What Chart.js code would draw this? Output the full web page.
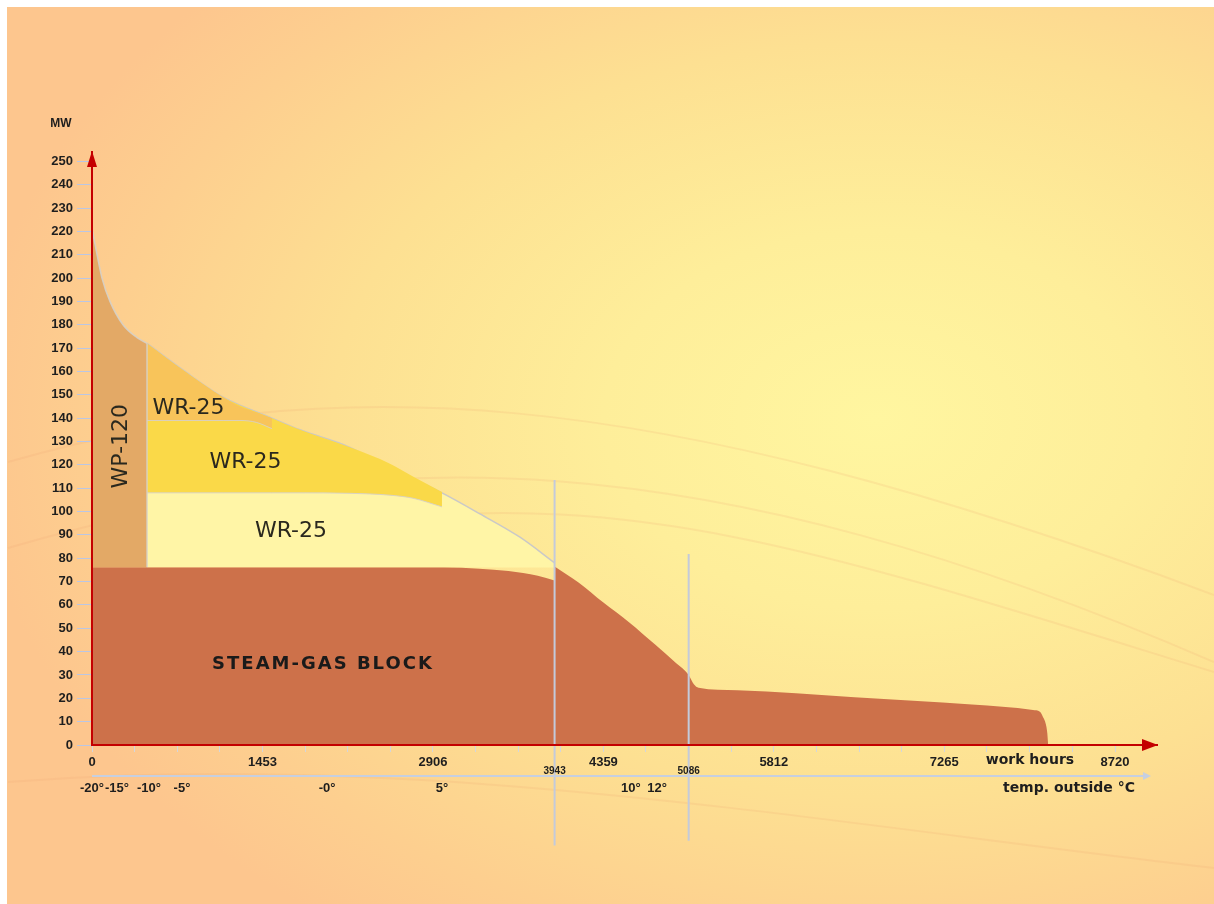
<!DOCTYPE html>
<html>
<head>
<meta charset="utf-8">
<script src="https://cdn.jsdelivr.net/npm/chart.js"></script>
<style>
  html, body { margin: 0; padding: 0; background: #fff; }
  #bg {
    position: absolute; left: 7px; top: 7px; width: 1207px; height: 897px;
    background: radial-gradient(ellipse 75% 70% at 72% 46%, #fff6a0 0%, #feee9a 30%, #fde092 60%, #fdcf8f 85%, #fdc68e 100%);
  }
  #wrap { position: absolute; left: 0; top: 0; width: 1214px; height: 904px; }
</style>
</head>
<body>
<div id="bg"></div>
<div id="wrap"><canvas id="grafico"></canvas></div>
<script>
// work hours on the x axis, MW on the y axis
const horasEtiquetas = [0, 1453, 2906, 4359, 5812, 7265, 8720];
const mwTicks = [0, 10, 20, 30, 40, 50, 60, 70, 80, 90, 100, 110, 120, 130, 140, 150, 160, 170, 180, 190, 200, 210, 220, 230, 240, 250];

// steam-gas block, before and after the 3943 h mark
const vaporAHoras = [0, 2500, 3000, 3300, 3550, 3800, 3943];
const vaporAMW = [76, 76, 76, 75.5, 74.5, 72.5, 70.5];
const vaporBHoras = [3943, 4150, 4359, 4580, 4800, 4980, 5086, 5130, 5170, 5500, 6500, 7500, 8021, 8080, 8106, 8130, 8143, 8150];
const vaporBMW = [76.5, 69.5, 61, 52.5, 43, 35, 30, 26, 24.5, 23.4, 20.4, 17.3, 15, 14.2, 12, 9, 5, 0];

// WP-120
const wpHoras = [0, 43, 85, 153, 264, 384, 469];
const wpMW = [221, 210, 200, 190, 180, 174.5, 172];

// upper WR-25
const wr1Horas = [469, 793, 1117, 1262, 1400, 1534];
const wr1Techo = [172, 160, 149, 145, 142.5, 140];
const wr1Piso = [139, 139, 139, 139, 138.2, 135.5];

// middle WR-25
const wr2Horas = [469, 793, 1117, 1534, 1773, 2199, 2540, 2736, 2983];
const wr2Techo = [172, 160, 149, 140, 135, 127.5, 120.5, 115, 108.4];
const wr2Piso = [108, 108, 108, 108, 108, 107.8, 107, 105.7, 102];

// lower WR-25 (outer curve)
const wr3Horas = [469, 793, 1117, 1534, 1773, 2199, 2455, 2983, 3307, 3648, 3943];
const wr3MW = [172, 160, 149, 140, 135, 127.5, 120.7, 108, 99, 89, 78];

// marked hours
const marcasHoras = [3943, 5086];
const marcasTope = [113.5, 81.8];

// outside temperature along the hours axis
const tempEtiquetas = ["-20°", "-15°", "-10°", "-5°", "-0°", "5°", "10°", "12°"];
const tempHoras = [0, 213, 486, 767, 2004, 2983, 4594, 4816];

const puntos = (hs, vs) => hs.map((h, i) => ({ x: h, y: vs[i] }));

// ticks every quarter of a labelled step
const horasTicks = [];
for (let i = 0; i < horasEtiquetas.length - 1; i++) {
  const a = horasEtiquetas[i], b = horasEtiquetas[i + 1];
  for (let k = 0; k < 4; k++) horasTicks.push(a + ((b - a) * k) / 4);
}
horasTicks.push(horasEtiquetas[horasEtiquetas.length - 1]);

const bordeClaro = "rgba(214, 208, 200, 0.9)";

// faint swooshes of the backdrop
const plugin_fondo = {
  id: "fondoCurvas",
  beforeDraw: (chart) => {
    const c = chart.ctx;
    c.save();
    c.strokeStyle = "rgba(236, 160, 112, 0.16)";
    c.lineWidth = 2;
    const curvas = [
      [8, 462, 330, 370, 640, 380, 1214, 595],
      [8, 548, 380, 440, 700, 440, 1214, 662],
      [380, 520, 650, 490, 850, 560, 1214, 672],
      [8, 782, 420, 750, 800, 820, 1214, 868],
    ];
    curvas.forEach((p) => {
      c.beginPath();
      c.moveTo(p[0], p[1]);
      c.bezierCurveTo(p[2], p[3], p[4], p[5], p[6], p[7]);
      c.stroke();
    });
    c.restore();
  },
};

const plugin_dibujo = {
  id: "dibujoExtra",
  afterDraw: (chart) => {
    const c = chart.ctx;
    const x = chart.scales.x, y = chart.scales.y;
    const area = chart.chartArea;
    c.save();

    // axes with arrows, drawn over the areas
    c.strokeStyle = "#c40000";
    c.lineWidth = 2;
    c.beginPath();
    c.moveTo(area.left, area.top + 10);
    c.lineTo(area.left, area.bottom);
    c.lineTo(area.right - 10, area.bottom);
    c.stroke();
    c.fillStyle = "#c40000";
    c.beginPath();
    c.moveTo(area.left, area.top - 1);
    c.lineTo(area.left - 5, area.top + 15);
    c.lineTo(area.left + 5, area.top + 15);
    c.closePath();
    c.fill();
    c.beginPath();
    c.moveTo(area.right + 1, area.bottom);
    c.lineTo(area.right - 15, area.bottom - 6);
    c.lineTo(area.right - 15, area.bottom + 6);
    c.closePath();
    c.fill();

    // temperature axis
    const yt = area.bottom + 31;
    c.strokeStyle = "#c6cfe0";
    c.lineWidth = 2;
    c.beginPath();
    c.moveTo(area.left, yt);
    c.lineTo(area.right - 8, yt);
    c.stroke();
    c.fillStyle = "#c6cfe0";
    c.beginPath();
    c.moveTo(area.right - 6, yt);
    c.lineTo(area.right - 14, yt - 4);
    c.lineTo(area.right - 14, yt + 4);
    c.closePath();
    c.fill();

    c.fillStyle = "#1e1e1e";
    c.font = "bold 13px 'Liberation Sans', Arial, sans-serif";
    c.textAlign = "center";
    c.textBaseline = "middle";
    tempEtiquetas.forEach((t, i) => {
      c.fillText(t, x.getPixelForValue(tempHoras[i]), yt + 12);
    });

    c.textAlign = "right";
    c.font = "bold 14px 'DejaVu Sans', Verdana, sans-serif";
    c.fillText("temp. outside °C", 1135, yt + 12);
    c.textAlign = "center";
    c.fillText("work hours", x.getPixelForValue(7995), area.bottom + 15);

    c.font = "bold 12px 'Liberation Sans', Arial, sans-serif";
    c.fillText("MW", 61, 124);

    // hour marks labels
    c.font = "bold 10px 'Liberation Sans', Arial, sans-serif";
    marcasHoras.forEach((h) => {
      c.fillText(String(h), x.getPixelForValue(h), area.bottom + 26);
    });

    // region labels
    c.fillStyle = "#2a281e";
    c.font = "22px 'DejaVu Sans', Verdana, sans-serif";
    c.fillText("WR-25", x.getPixelForValue(822), y.getPixelForValue(144.3));
    c.fillText("WR-25", x.getPixelForValue(1308), y.getPixelForValue(121.2));
    c.fillText("WR-25", x.getPixelForValue(1696), y.getPixelForValue(91.7));
    c.save();
    c.translate(x.getPixelForValue(247), y.getPixelForValue(128));
    c.rotate(-Math.PI / 2);
    c.fillText("WP-120", 0, 0);
    c.restore();

    c.fillStyle = "#1a1a1a";
    c.font = "bold 18px 'DejaVu Sans', Verdana, sans-serif";
    c.letterSpacing = "2px";
    c.fillText("STEAM-GAS BLOCK", x.getPixelForValue(1969), y.getPixelForValue(34.7));
    c.letterSpacing = "0px";

    c.restore();
  },
};

const ctx = document.getElementById("grafico").getContext("2d");
const grafico = new Chart(ctx, {
  type: "line",
  data: {
    datasets: [
      {
        label: "STEAM-GAS BLOCK",
        data: puntos(vaporAHoras, vaporAMW),
        backgroundColor: "#cd714a",
        borderColor: "rgba(0,0,0,0)",
        borderWidth: 0,
        fill: "origin",
        order: 1,
      },
      {
        label: "STEAM-GAS BLOCK (b)",
        data: puntos(vaporBHoras, vaporBMW),
        backgroundColor: "#cd714a",
        borderColor: "rgba(0,0,0,0)",
        borderWidth: 0,
        fill: "origin",
        order: 1,
      },
      {
        label: "WP-120",
        data: puntos(wpHoras, wpMW),
        backgroundColor: "#e3a966",
        borderColor: bordeClaro,
        borderWidth: 1.5,
        fill: { value: 76 },
        order: 2,
      },
      {
        label: "WR-25 (1)",
        data: puntos(wr1Horas, wr1Techo),
        backgroundColor: "#f8c45a",
        borderColor: "rgba(0,0,0,0)",
        borderWidth: 0,
        fill: 4,
        order: 3,
      },
      {
        label: "WR-25 (1) piso",
        data: puntos(wr1Horas, wr1Piso),
        borderColor: bordeClaro,
        borderWidth: 1,
        fill: false,
        order: 2.5,
      },
      {
        label: "WR-25 (2)",
        data: puntos(wr2Horas, wr2Techo),
        backgroundColor: "#fad948",
        borderColor: "rgba(0,0,0,0)",
        borderWidth: 0,
        fill: 6,
        order: 4,
      },
      {
        label: "WR-25 (2) piso",
        data: puntos(wr2Horas, wr2Piso),
        borderColor: bordeClaro,
        borderWidth: 1,
        fill: false,
        order: 3.5,
      },
      {
        label: "WR-25 (3)",
        data: puntos(wr3Horas, wr3MW),
        backgroundColor: "#fff5a6",
        borderColor: "rgba(196, 196, 204, 0.9)",
        borderWidth: 1.5,
        fill: { value: 76 },
        order: 5,
      },
      {
        label: "division",
        data: [{ x: wpHoras[wpHoras.length - 1], y: 76 }, { x: wpHoras[wpHoras.length - 1], y: wpMW[wpMW.length - 1] }],
        borderColor: bordeClaro,
        borderWidth: 1.5,
        fill: false,
        order: 1.5,
      },
      {
        label: "3943",
        data: [{ x: marcasHoras[0], y: marcasTope[0] }, { x: marcasHoras[0], y: -43 }],
        borderColor: "#c3cadb",
        borderWidth: 2,
        fill: false,
        clip: false,
        order: 0,
      },
      {
        label: "5086",
        data: [{ x: marcasHoras[1], y: marcasTope[1] }, { x: marcasHoras[1], y: -41 }],
        borderColor: "#c3cadb",
        borderWidth: 2,
        fill: false,
        clip: false,
        order: 0,
      },
    ],
  },
  options: {
    responsive: true,
    maintainAspectRatio: false,
    animation: false,
    layout: { padding: { left: 7, right: 57, top: 152, bottom: 0 } },
    elements: { point: { radius: 0 }, line: { tension: 0, cubicInterpolationMode: "monotone" } },
    plugins: {
      legend: { display: false },
      tooltip: { enabled: false },
      filler: { propagate: false },
    },
    scales: {
      x: {
        type: "linear",
        min: 0,
        max: 9078,
        afterFit: (s) => { s.height = 159; },
        afterBuildTicks: (s) => { s.ticks = horasTicks.map((v) => ({ value: v })); },
        ticks: {
          autoSkip: false,
          maxRotation: 0,
          padding: 3,
          color: "#1e1e1e",
          font: { family: "'Liberation Sans', Arial, sans-serif", size: 13, weight: "bold" },
          callback: (v) => (horasEtiquetas.includes(v) ? String(v) : ""),
        },
        grid: { drawOnChartArea: false, tickLength: 7, tickColor: "#d4d6dc", tickWidth: 1 },
        border: { color: "#c40000", width: 2 },
      },
      y: {
        min: 0,
        max: 254,
        afterFit: (s) => { s.width = 85; },
        afterBuildTicks: (s) => { s.ticks = mwTicks.map((v) => ({ value: v })); },
        ticks: {
          padding: 4,
          color: "#1e1e1e",
          font: { family: "'Liberation Sans', Arial, sans-serif", size: 13, weight: "bold" },
        },
        grid: { drawOnChartArea: false, tickLength: 15, tickColor: "#bac6e4", tickWidth: 1 },
        border: { color: "#c40000", width: 2 },
      },
    },
  },
  plugins: [plugin_fondo, plugin_dibujo],
});
</script>
</body>
</html>
